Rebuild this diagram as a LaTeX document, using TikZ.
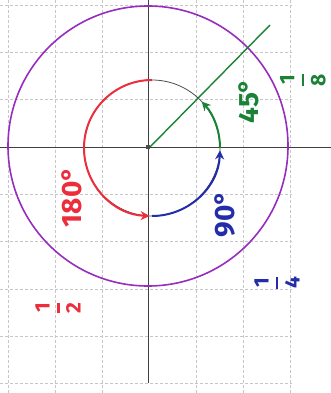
\documentclass[tikz,border=0pt]{standalone}
\usepackage{amsmath}
\usepackage{fontspec}
\setsansfont{Fira Sans}
\usetikzlibrary{arrows.meta}
\definecolor{pred}{RGB}{235,45,60}
\definecolor{pblue}{RGB}{35,45,170}
\definecolor{pgreen}{RGB}{25,130,55}
\definecolor{ppurple}{RGB}{150,45,190}
\newcommand{\hfr}[2]{$\genfrac{}{}{2.2pt}{0}{\textsf{#1}}{\textsf{#2}}$}
\tikzset{
  gridline/.style={gray!45, densely dashed, line width=0.5pt},
  axisline/.style={black!75, line width=0.8pt},
  lbl/.style={rotate=90, inner sep=0pt, font=\sffamily\bfseries\fontsize{28}{28}\selectfont},
  fraclbl/.style={rotate=90, inner sep=0pt, font=\sffamily\bfseries\fontsize{21}{21}\selectfont},
  arcline/.style={line width=2pt},
  arr/.style={-{Stealth[length=9pt,width=9pt]}}
}
\begin{document}
\begin{tikzpicture}[x=1pt,y=-1pt]
\useasboundingbox (0,0) rectangle (331,393);
% grid
\foreach \gx in {8,55,102,196,243,290} \draw[gridline] (\gx,0) -- (\gx,393);
\foreach \gy in {5,52,99,194,241,289,336,383} \draw[gridline] (0,\gy) -- (292,\gy);
% axes
\coordinate (O) at (150,147);
\coordinate (xl) at (0,147);
\coordinate (xr) at (331,147);
\coordinate (yt) at (148,0);
\coordinate (yb) at (148,383);
\draw[axisline] (xl) -- (xr);
\draw[axisline] (yt) -- (yb);
% outer circle
\draw[ppurple, line width=1.6pt] (148,146) circle[radius=140];
% inner circle
\coordinate (C) at (152,148);
\draw[black!70, line width=0.8pt] (C) circle[radius=68];
% red arc: top -> left -> bottom
\draw[pred, arcline, arr] (152,80) arc[start angle=-90, end angle=-268, radius=68];
% blue arc: bottom -> right
\draw[pblue, arcline, arr] (152,216) arc[start angle=90, end angle=2, radius=68];
% green arc: right -> 45 deg
\draw[pgreen, arcline, arr] (220,148) arc[start angle=0, end angle=-43, radius=68];
% green ray
\coordinate (G) at (270,25);
\draw[pgreen, line width=1.4pt] (O) -- (G);
% centre dot
\node[fill=black!70, minimum size=4pt, inner sep=0pt] (dot) at (148,147) {};
% labels
\node[fraclbl, text=pgreen] (l8) at (303,80) {\hfr{1}{8}};
\node[lbl, text=pgreen] (l45) at (249,101) {45°};
\node[lbl, text=pred] (l180) at (72,197) {180°};
\node[lbl, text=pblue] (l90) at (225,214) {90°};
\node[fraclbl, text=pblue] (l4) at (277,283) {\hfr{1}{4}};
\node[fraclbl, text=pred] (l2) at (58,308) {\hfr{1}{2}};
\end{tikzpicture}
\end{document}
